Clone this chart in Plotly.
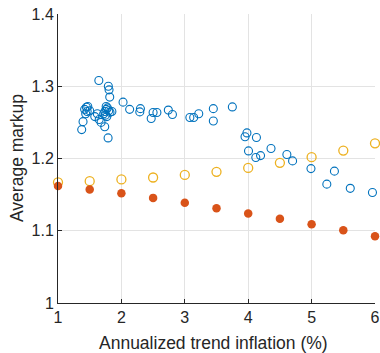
import plotly.graph_objects as go

# Model series (x = annualized trend inflation, %)
model_x = [1, 1.5, 2, 2.5, 3, 3.5, 4, 4.5, 5, 5.5, 6]
model_filled = [1.162, 1.157, 1.152, 1.1455, 1.1386, 1.131, 1.124, 1.1165, 1.109, 1.1008, 1.0925]
model_open = [1.167, 1.1686, 1.171, 1.1737, 1.1773, 1.1815, 1.187, 1.194, 1.2018, 1.211, 1.221]

# Data points (blue open circles)
data_x = [1.374, 1.395, 1.437, 1.42, 1.448, 1.47, 1.50, 1.46,
          1.644, 1.794, 1.805, 1.816, 1.65, 1.68, 1.737, 1.79, 1.74, 1.76, 1.78, 1.80,
          1.82, 1.75, 1.77, 1.85, 1.72, 1.76, 1.58, 1.62,
          2.026, 2.13, 2.30, 2.29, 2.50, 2.56, 2.47, 2.74, 2.805, 3.08, 3.14, 3.22,
          3.45, 3.45, 3.75, 3.98, 3.95, 4.13, 4.005, 4.12, 4.195, 4.36, 4.61, 4.70,
          4.99, 5.36, 5.24, 5.61, 5.96]
data_y = [1.240, 1.251, 1.262, 1.268, 1.271, 1.272, 1.266, 1.265,
          1.308, 1.300, 1.295, 1.285, 1.254, 1.250, 1.244, 1.2285, 1.265, 1.268, 1.270, 1.266,
          1.264, 1.260, 1.258, 1.265, 1.262, 1.272, 1.258, 1.262,
          1.278, 1.268, 1.269, 1.2645, 1.2636, 1.2636, 1.2553, 1.267, 1.261, 1.2567, 1.2567, 1.262,
          1.269, 1.252, 1.2714, 1.2354, 1.230, 1.229, 1.2105, 1.2014, 1.204, 1.2138, 1.2055, 1.1967,
          1.186, 1.1825, 1.1645, 1.1587, 1.153]

x_ticks = [1, 2, 3, 4, 5, 6]
y_ticks = [1, 1.1, 1.2, 1.3, 1.4]
y_tick_labels = ["1", "1.1", "1.2", "1.3", "1.4"]
x_title = "Annualized trend inflation (%)"
y_title = "Average markup"

BLUE = "#0072BD"
RED = "#D95319"
YELLOW = "#EDB120"
INK = "#262626"
GRID = "#e3e3e3"

fig = go.Figure()
fig.add_trace(go.Scatter(x=data_x, y=data_y, mode="markers", cliponaxis=False,
                         marker=dict(symbol="circle-open", size=8, color=BLUE,
                                     line=dict(width=1.1, color=BLUE))))
fig.add_trace(go.Scatter(x=model_x, y=model_open, mode="markers", cliponaxis=False,
                         marker=dict(symbol="circle-open", size=9, color=YELLOW,
                                     line=dict(width=1.3, color=YELLOW))))
fig.add_trace(go.Scatter(x=model_x, y=model_filled, mode="markers", cliponaxis=False,
                         marker=dict(symbol="circle", size=8.5, color=RED,
                                     line=dict(width=0))))

font = dict(family="Liberation Sans, Arial, Helvetica, sans-serif", color=INK)

fig.update_layout(
    width=380, height=353,
    margin=dict(l=58, r=5, t=14, b=50, autoexpand=False),
    paper_bgcolor="white", plot_bgcolor="white",
    showlegend=False,
    font=dict(size=16, **font),
    annotations=[
        dict(text=x_title, xref="paper", yref="paper", x=0.5, y=0,
             xanchor="center", yanchor="middle", yshift=-40, xshift=-3,
             showarrow=False, font=dict(size=17.5, **font)),
        dict(text=y_title, xref="paper", yref="paper", x=0, y=0.5,
             xanchor="center", yanchor="middle", xshift=-41.5, textangle=-90,
             showarrow=False, font=dict(size=17.5, **font)),
    ],
)
fig.update_xaxes(
    range=[1, 6], tickvals=x_ticks, ticktext=[str(v) for v in x_ticks],
    showgrid=True, gridcolor=GRID, gridwidth=1, automargin=False,
    showline=True, linecolor=INK, linewidth=1, mirror=False,
    ticks="inside", ticklen=4, tickcolor=INK, tickwidth=1,
    tickfont=dict(size=16, **font), zeroline=False,
)
fig.update_yaxes(
    range=[1, 1.4], tickvals=y_ticks, ticktext=y_tick_labels,
    showgrid=True, gridcolor=GRID, gridwidth=1, automargin=False,
    showline=True, linecolor=INK, linewidth=1, mirror=False,
    ticks="inside", ticklen=4, tickcolor=INK, tickwidth=1,
    tickfont=dict(size=16, **font), zeroline=False,
)

fig.write_html("out.html", config={"displayModeBar": False},
               post_script="document.body.style.margin='0';")
